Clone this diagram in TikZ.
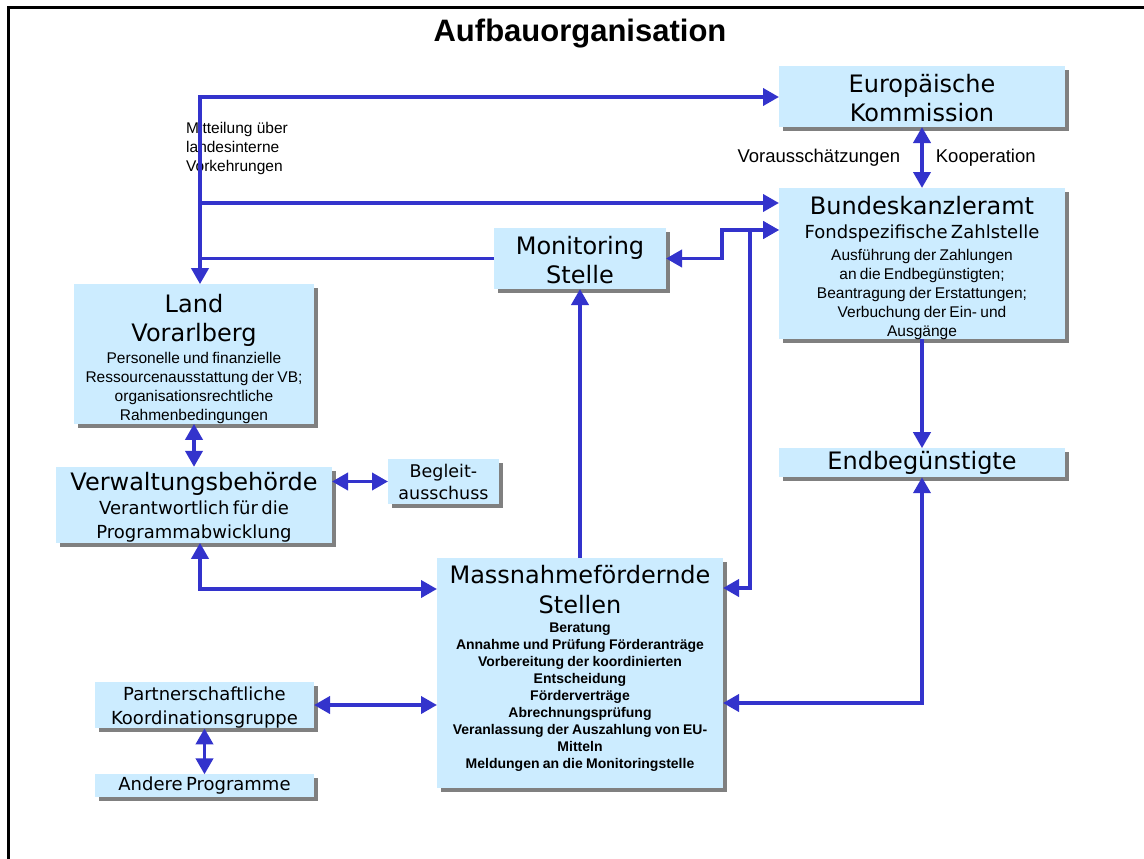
\documentclass[tikz,border=0pt]{standalone}
\usepackage{fontspec}
\setmainfont{Liberation Sans}
\newfontfamily\headfam{DejaVu Sans}
\usetikzlibrary{positioning, shadows, arrows.meta}

\definecolor{boxblue}{RGB}{204,236,255}
\definecolor{linkblue}{RGB}{51,51,204}
\definecolor{shadowgray}{RGB}{128,128,128}

\newcommand{\boxhead}{\headfam\fontsize{24}{29.5}\selectfont}
\newcommand{\boxsub}{\headfam\fontsize{18}{24}\selectfont}
\newcommand{\boxtext}{\normalfont\fontsize{15.5}{19}\selectfont}
\newcommand{\boxbold}{\normalfont\bfseries\fontsize{14}{17}\selectfont}

\begin{document}
\begin{tikzpicture}[
    x=1pt, y=-1pt,
    >={Triangle[length=16pt, width=17pt]},
    orgbox/.style={rectangle, fill=boxblue, inner sep=0pt, outer sep=0pt, align=center,
        drop shadow={shadow xshift=4pt, shadow yshift=-4pt, fill=shadowgray, opacity=1}},
    link/.style={draw=linkblue, line width=3.8pt},
    note/.style={inner sep=0pt, font=\fontsize{18.5}{22}\selectfont}
]
\useasboundingbox (0,0) rectangle (1144,859);

% Frame and title
\draw[line width=3pt] (8,870) -- (8,8) -- (1160,8);
\node[font=\bfseries\fontsize{31}{36}\selectfont] (title) at (580,34) {Aufbauorganisation};

% Federal and EU level
\node[orgbox, text width=286pt, minimum height=61pt] (ek) at (922,96.5) {\boxhead\rule{0pt}{21pt}Europäische\\Kommission\par};
\node[orgbox, text width=286pt, minimum height=149pt, below=61pt of ek] (bka)
    {\boxhead\rule{0pt}{26pt}Bundeskanzleramt\par
     \boxsub Fondspezifische Zahlstelle\par\vspace{3pt}
     \boxtext Ausführung der Zahlungen\\an die Endbegünstigten;\\Beantragung der Erstattungen;\\Verbuchung der Ein- und\\Ausgänge\par};
\node[orgbox, text width=286pt, minimum height=29pt, below=109pt of bka] (endb) {\boxhead Endbegünstigte\par};
\node[orgbox, text width=172pt, minimum height=61pt] (mon) at (580,258.5) {\boxhead\rule{0pt}{21pt}Monitoring\\Stelle\par};

% Land level
\node[orgbox, text width=240pt, minimum height=138pt] (land) at (194,354)
    {\boxhead\rule{0pt}{28pt}Land\\Vorarlberg\par\vspace{3pt}
     \boxtext Personelle und finanzielle\\Ressourcenausstattung der VB;\\organisationsrechtliche\\Rahmenbedingungen\par};
\node[orgbox, text width=276pt, minimum height=76pt, below=43pt of land] (verw)
    {\boxhead\rule{0pt}{24pt}Verwaltungsbehörde\par
     \boxsub Verantwortlich für die\\Programmabwicklung\par};
\node[orgbox, text width=111pt, minimum height=45pt] (begl) at (443.5,481.5) {\headfam\fontsize{17.5}{22}\selectfont Begleit-\\ausschuss\par};
\node[orgbox, text width=286pt, minimum height=230pt] (mass) at (580,673)
    {\boxhead Massnahmefördernde\\Stellen\par\vspace{2pt}
     \boxbold Beratung\\Annahme und Prüfung Förderanträge\\Vorbereitung der koordinierten\\Entscheidung\\Förderverträge\\Abrechnungsprüfung\\Veranlassung der Auszahlung von EU-\\Mitteln\\Meldungen an die Monitoringstelle\rule[-12pt]{0pt}{12pt}\par};

% Coordination
\node[orgbox, text width=219pt, minimum height=46pt] (partner) at (204.5,705) {\boxsub\rule{0pt}{19pt}Partnerschaftliche\\Koordinationsgruppe\par};
\node[orgbox, text width=219pt, minimum height=23pt, below=46pt of partner] (andere) {\boxsub Andere Programme\par};

% Reporting lines
\node[anchor=north west, align=left, inner sep=0pt, font=\fontsize{15.5}{19}\selectfont] (memo) at (186,122) {Mitteilung über\\landesinterne\\Vorkehrungen\par};
\coordinate (c4) at (200,97);
\coordinate (c5) at (200,203);
\draw[link,<->] (c4 |- land.north) -- (c4) -- (c4 -| ek.west);
\draw[link,->] (c5) -- (c5 -| bka.west);
\draw[link] (mon.west) -- (mon.west -| c4);

% Edges between boxes
\draw[link,<->] (ek) -- node[note, left=20pt] (vorlabel) {Vorausschätzungen} node[note, right=12pt] (koolabel) {Kooperation} (bka);
\draw[link,->] (bka) -- (endb);
\coordinate (c1) at (722,230);
\coordinate (c2) at (750,588);
\draw[link,<->] (mon.east) -| (c1) -- (c1 -| bka.west);
\draw[link,<->] (mass.east |- c2) -- (c2) |- (c1 -| bka.west);
\draw[link,->] (mass.north) -- (mon.south);
\coordinate (c6) at (922,703);
\draw[link,<->] (c6 -| mass.east) -- (c6) -- (endb.south);
\draw[link,<->] (land) -- (verw);
\draw[link,<->] (verw.east |- begl) -- (begl.west);
\coordinate (c3) at (200,589);
\draw[link,<->] (verw.south -| c3) -- (c3) -- (c3 -| mass.west);
\draw[link,<->] (partner.east) -- (partner.east -| mass.west);
\draw[link,<->] (partner) -- (andere);

\end{tikzpicture}
\end{document}
